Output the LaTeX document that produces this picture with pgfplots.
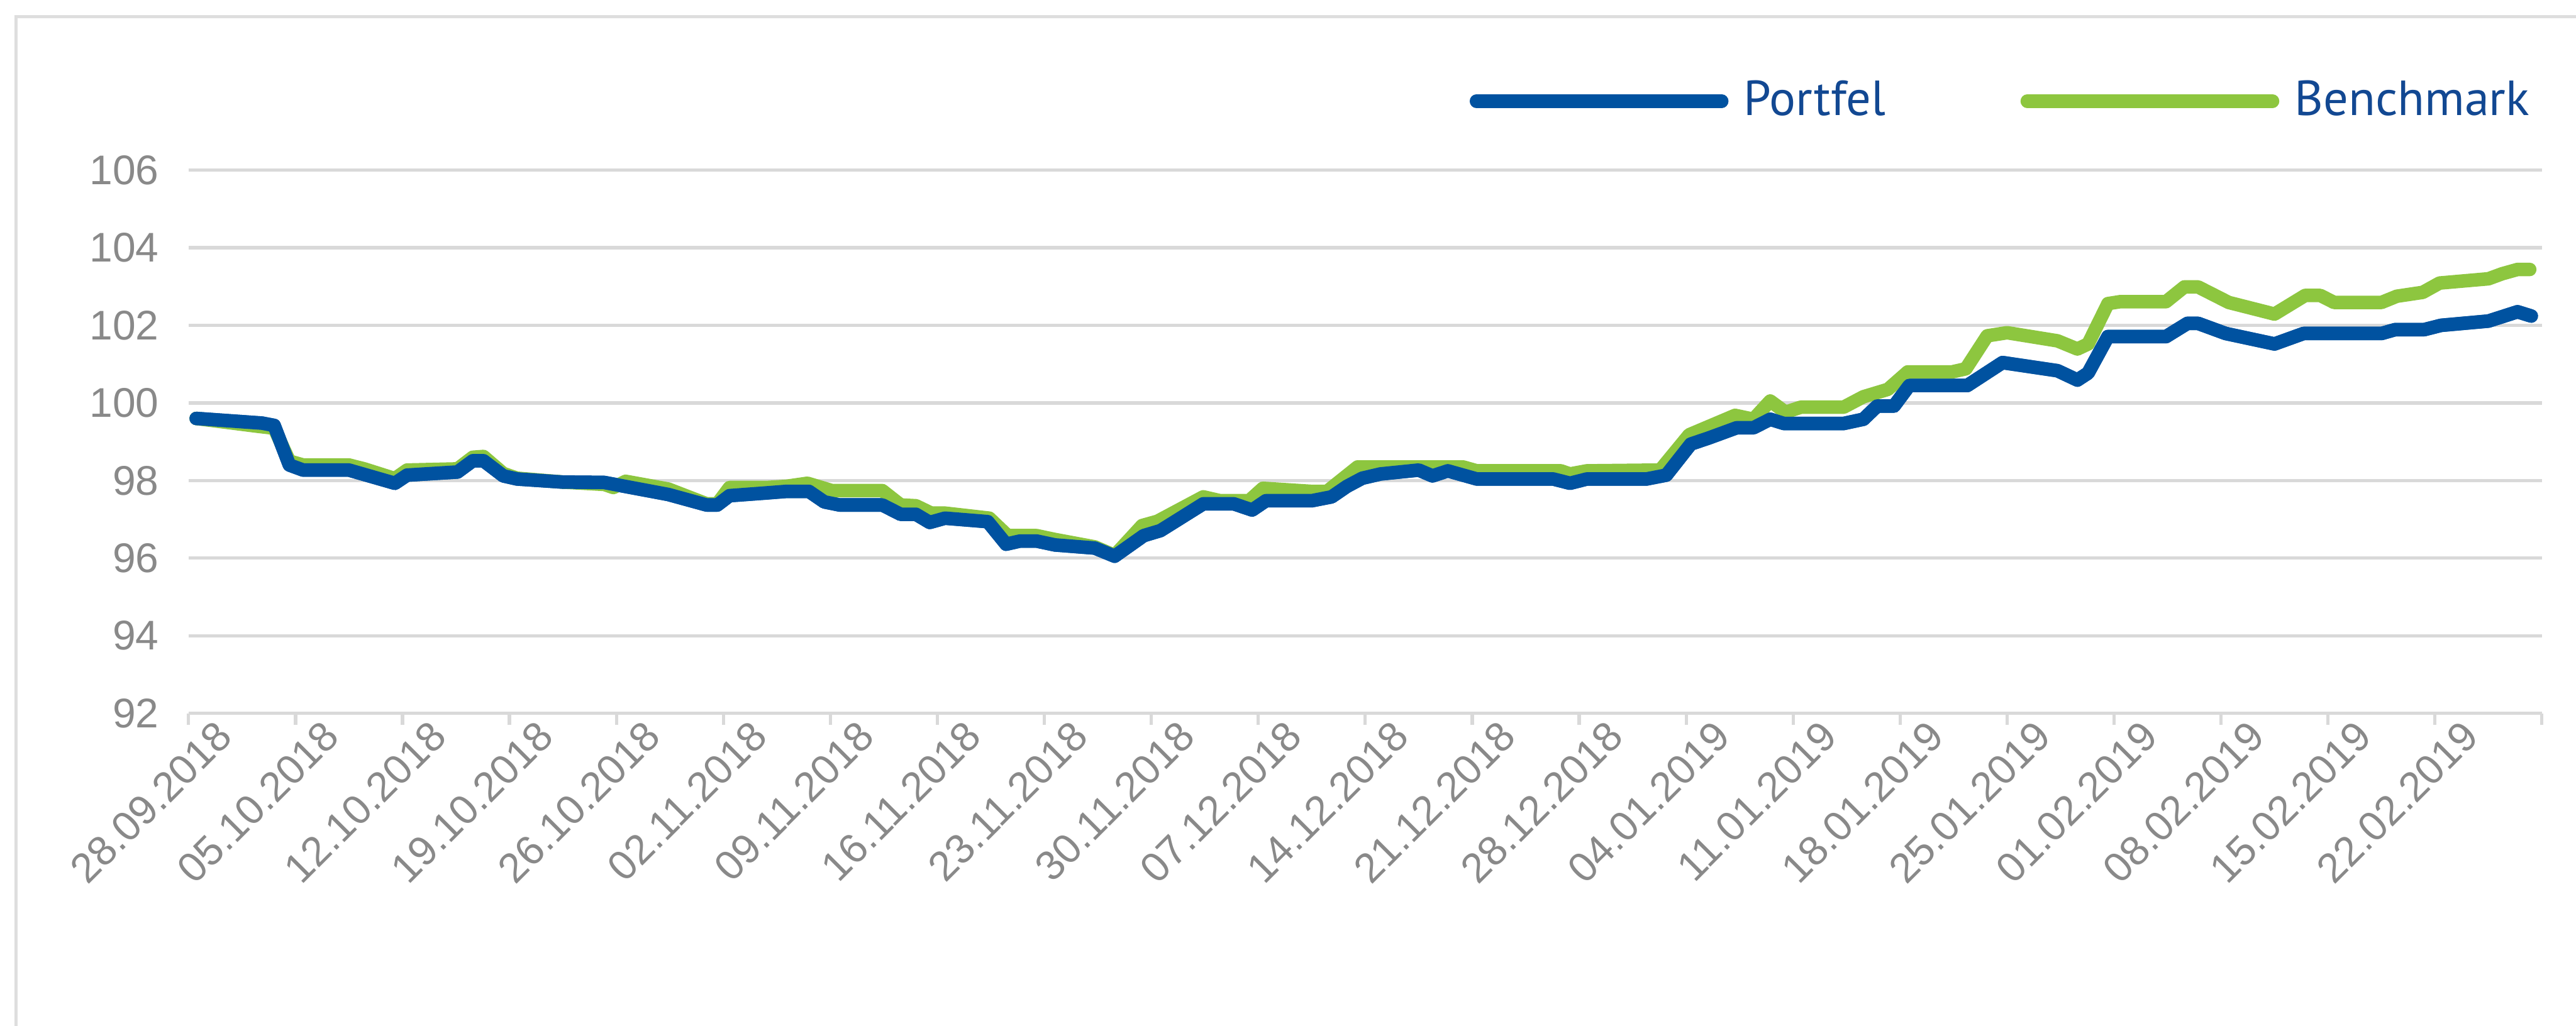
\documentclass[border=0pt]{standalone}
\usepackage{fontspec}
\setmainfont{Liberation Sans}
\newfontfamily\legfont{PT Sans}
\usepackage{pgfplots}
\pgfplotsset{compat=1.18}
\definecolor{pblue}{RGB}{0,82,160}
\definecolor{bgreen}{RGB}{141,198,63}
\definecolor{legblue}{RGB}{18,72,146}
\definecolor{tickgrey}{RGB}{137,137,137}
\definecolor{gridgrey}{RGB}{217,217,217}
\definecolor{bordergrey}{RGB}{222,222,222}

\pgfplotstableread{
x y
0.5 99.60
4.8 99.48
5.6 99.42
6.6 98.40
7.5 98.27
10.5 98.27
13.5 97.93
14.3 98.14
17.6 98.22
18.6 98.51
19.3 98.51
20.6 98.12
21.5 98.04
24.5 97.96
27.2 97.95
31.4 97.64
33.9 97.37
34.6 97.37
35.4 97.61
37.8 97.68
39.1 97.72
40.6 97.72
41.6 97.45
42.6 97.37
45.4 97.37
46.6 97.13
47.6 97.13
48.5 96.92
49.5 97.03
52.3 96.94
53.5 96.36
54.4 96.44
55.5 96.44
56.7 96.34
59.3 96.26
60.6 96.05
62.5 96.58
63.6 96.71
66.4 97.40
68.4 97.40
69.6 97.24
70.5 97.48
73.5 97.48
74.8 97.58
75.8 97.85
76.8 98.06
78.0 98.17
80.5 98.27
81.4 98.12
82.4 98.25
84.3 98.04
89.3 98.04
90.4 97.93
91.5 98.04
95.4 98.04
96.7 98.14
98.3 98.94
99.5 99.10
101.3 99.36
102.4 99.36
103.5 99.58
104.4 99.47
108.3 99.47
109.6 99.58
110.5 99.92
111.6 99.92
112.6 100.45
116.4 100.45
118.7 101.04
122.3 100.83
123.6 100.59
124.3 100.77
125.6 101.71
129.4 101.71
130.8 102.05
131.5 102.05
133.3 101.79
136.5 101.52
138.4 101.79
143.5 101.79
144.4 101.89
146.3 101.89
147.4 102.00
150.5 102.11
152.4 102.35
153.3 102.24
}\portfel

\pgfplotstableread{
x y
0.5 99.60
4.5 99.40
5.6 99.35
6.6 98.50
7.5 98.40
10.5 98.40
11.5 98.30
13.5 98.05
14.3 98.27
17.6 98.30
18.6 98.60
19.3 98.62
20.6 98.18
21.5 98.06
24.5 97.96
27.2 97.90
27.8 97.82
28.6 97.98
31.4 97.78
33.9 97.40
34.6 97.40
35.4 97.82
37.8 97.82
39.1 97.85
40.5 97.93
42.1 97.74
45.4 97.74
46.6 97.37
47.6 97.35
48.6 97.16
49.5 97.16
52.4 97.03
53.6 96.58
55.5 96.58
56.7 96.48
59.3 96.29
60.6 96.07
62.4 96.84
63.4 96.95
66.4 97.58
67.5 97.48
69.4 97.48
70.3 97.80
73.5 97.72
74.5 97.72
76.5 98.35
83.4 98.35
84.3 98.25
89.8 98.25
90.4 98.17
91.5 98.25
96.3 98.27
98.2 99.18
101.2 99.68
102.4 99.58
103.5 100.05
104.5 99.76
105.5 99.89
108.3 99.89
109.6 100.16
111.2 100.35
112.5 100.80
115.4 100.80
116.3 100.88
117.7 101.73
119.0 101.81
122.3 101.60
123.6 101.39
124.3 101.52
125.6 102.56
126.4 102.61
129.4 102.61
130.6 102.99
131.5 102.99
133.5 102.59
136.5 102.29
138.5 102.77
139.5 102.77
140.4 102.59
143.5 102.59
144.5 102.75
146.2 102.85
147.3 103.09
150.5 103.20
151.4 103.33
152.4 103.44
153.2 103.44
}\benchmark

\begin{document}
\begin{tikzpicture}
\useasboundingbox (0,0) rectangle (590.2pt,235.1pt);
\draw[bordergrey, line width=0.8pt] (3.7pt,0pt) -- (3.7pt,231.3pt) -- (590.2pt,231.3pt);
\begin{axis}[
  at={(43.2pt,71.6pt)}, anchor=south west,
  width=539.2pt, height=124.5pt, scale only axis,
  xmin=0, xmax=154, ymin=92, ymax=106,
  axis line style={draw=none},
  ymajorgrids, grid style={gridgrey, line width=0.75pt},
  ytick={92,94,...,106},
  xtick={0,7,...,154},
  xticklabels={28.09.2018,05.10.2018,12.10.2018,19.10.2018,26.10.2018,02.11.2018,09.11.2018,16.11.2018,23.11.2018,30.11.2018,07.12.2018,14.12.2018,21.12.2018,28.12.2018,04.01.2019,11.01.2019,18.01.2019,25.01.2019,01.02.2019,08.02.2019,15.02.2019,22.02.2019,{}},
  tick align=outside, major tick length=2.7pt,
  xtick pos=bottom, ytick pos=left,
  xtick style={draw=gridgrey, line width=0.75pt},
  ytick style={draw=none},
  /pgf/number format/assume math mode=true,
  ticklabel style={font=\fontsize{9.5}{11}\selectfont, text=tickgrey},
  yticklabel style={anchor=east, inner sep=0pt, xshift=-3.9pt},
  xticklabel style={rotate=45, anchor=east, inner sep=0pt, xshift=5.4pt, yshift=-6.4pt},
  clip=false,
  legend style={at={(0.544,1.127)}, anchor=west, draw=none, fill=none, inner sep=0pt,
    legend columns=2, font=\legfont\fontsize{11.3}{13}\selectfont, text=legblue,
    /tikz/every even column/.append style={column sep=27.4pt},
    nodes={inner sep=3.5pt}},
  legend image code/.code={\draw[#1, line width=2.7pt, line cap=butt] (0pt,0pt) -- (52.7pt,0pt); \path (0pt,0pt) -- (56.2pt,0pt);},
]
\addplot[pblue, line width=3.1pt, line join=round, line cap=round] table[x=x, y=y] {\portfel};
\addlegendentry{Portfel}
\addplot[bgreen, line width=3.1pt, line join=round, line cap=round] table[x=x, y=y] {\benchmark};
\addlegendentry{Benchmark}
\addplot[pblue, line width=3.1pt, line join=round, line cap=round, forget plot] table[x=x, y=y] {\portfel};
\end{axis}
\end{tikzpicture}
\end{document}
